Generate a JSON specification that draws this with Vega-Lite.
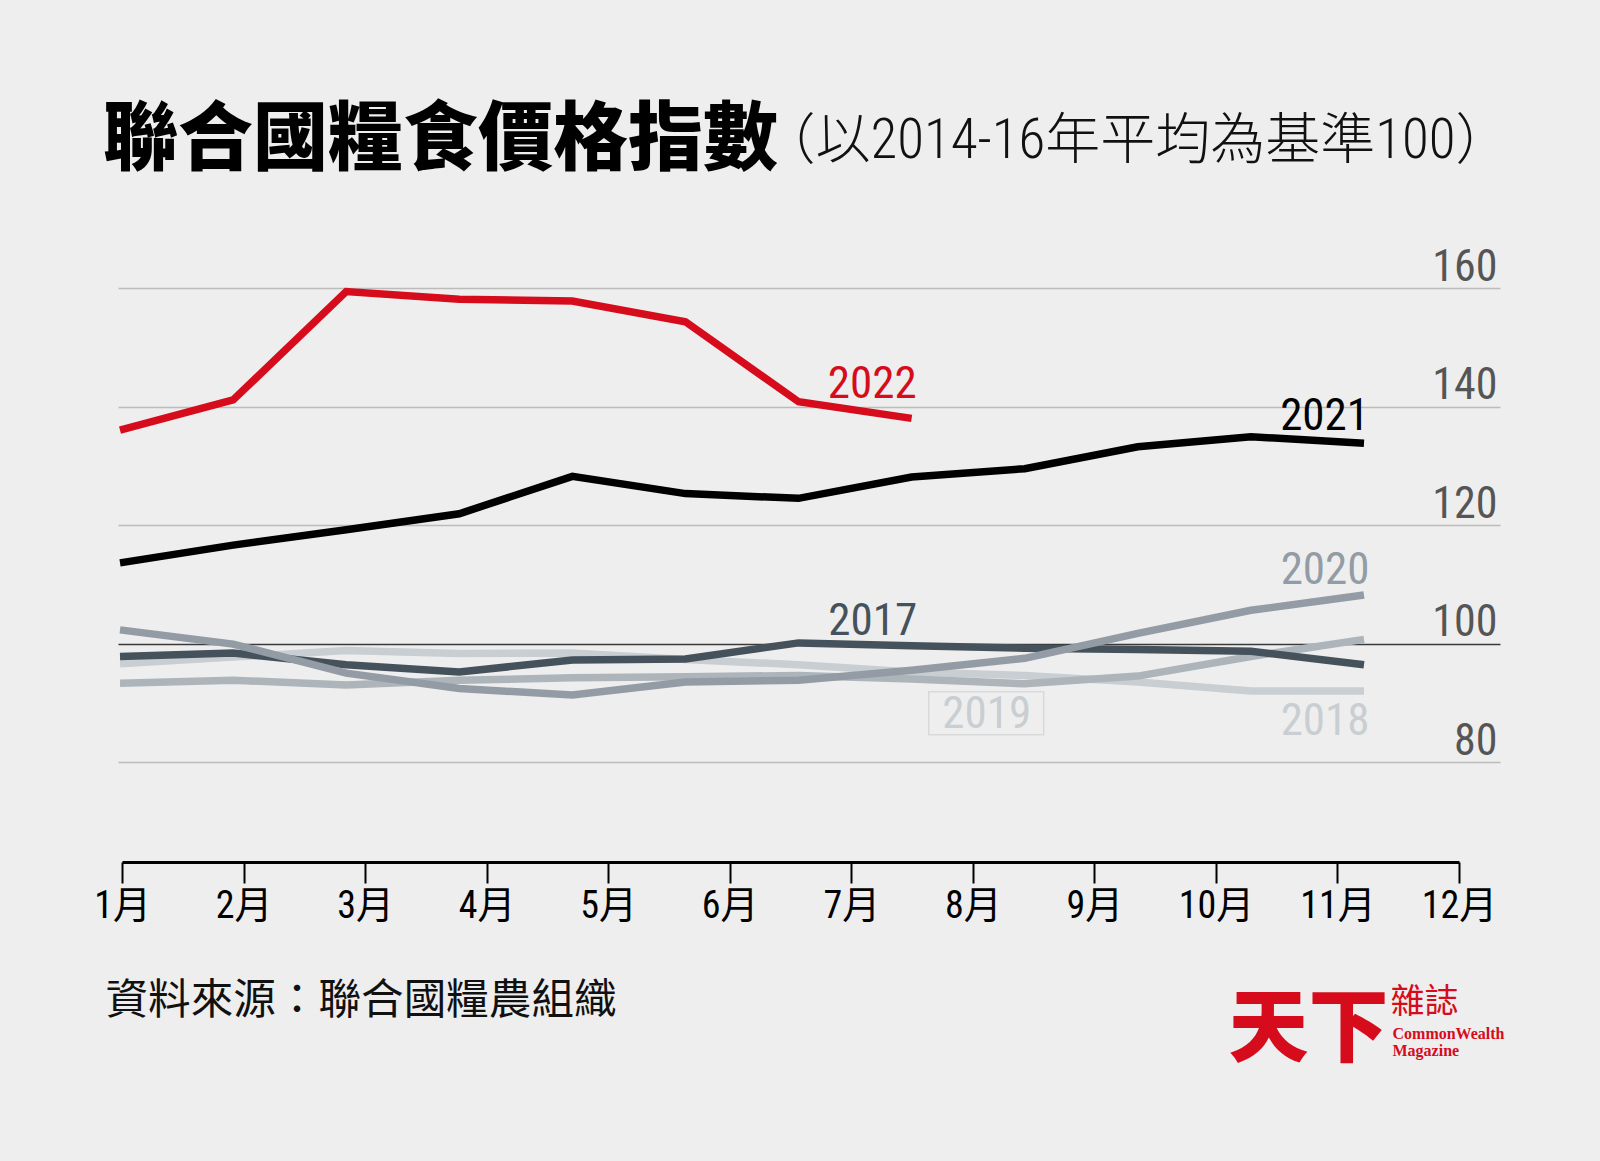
{
  "$schema": "https://vega.github.io/schema/vega-lite/v6.json",
  "width": 1382,
  "height": 474,
  "autosize": {"type": "none"},
  "padding": {"left": 118, "top": 288, "right": 100, "bottom": 399},
  "background": "#eeeeee",
  "config": {"view": {"stroke": null}},
  "title": {
    "text": "聯合國糧食價格指數",
    "orient": "top",
    "anchor": "start",
    "frame": "group",
    "baseline": "alphabetic",
    "offset": 0,
    "dx": -15,
    "dy": 126,
    "font": "Noto Sans CJK TC",
    "fontSize": 75,
    "fontWeight": 900,
    "color": "#000000"
  },
  "datasets": {
    "fpi": [
      {"year": "2018", "month": 1, "value": 96.6},
      {"year": "2018", "month": 2, "value": 97.7},
      {"year": "2018", "month": 3, "value": 98.8},
      {"year": "2018", "month": 4, "value": 98.3},
      {"year": "2018", "month": 5, "value": 98.4},
      {"year": "2018", "month": 6, "value": 97.3},
      {"year": "2018", "month": 7, "value": 96.4},
      {"year": "2018", "month": 8, "value": 95.2},
      {"year": "2018", "month": 9, "value": 94.6},
      {"year": "2018", "month": 10, "value": 93.5},
      {"year": "2018", "month": 11, "value": 92.0},
      {"year": "2018", "month": 12, "value": 92.0},
      {"year": "2019", "month": 1, "value": 93.3},
      {"year": "2019", "month": 2, "value": 93.8},
      {"year": "2019", "month": 3, "value": 93.0},
      {"year": "2019", "month": 4, "value": 93.8},
      {"year": "2019", "month": 5, "value": 94.2},
      {"year": "2019", "month": 6, "value": 94.4},
      {"year": "2019", "month": 7, "value": 94.6},
      {"year": "2019", "month": 8, "value": 94.0},
      {"year": "2019", "month": 9, "value": 93.2},
      {"year": "2019", "month": 10, "value": 94.5},
      {"year": "2019", "month": 11, "value": 97.8},
      {"year": "2019", "month": 12, "value": 100.7},
      {"year": "2017", "month": 1, "value": 97.8},
      {"year": "2017", "month": 2, "value": 98.4},
      {"year": "2017", "month": 3, "value": 96.4},
      {"year": "2017", "month": 4, "value": 95.2},
      {"year": "2017", "month": 5, "value": 97.2},
      {"year": "2017", "month": 6, "value": 97.4},
      {"year": "2017", "month": 7, "value": 100.1},
      {"year": "2017", "month": 8, "value": 99.6},
      {"year": "2017", "month": 9, "value": 99.2},
      {"year": "2017", "month": 10, "value": 99.0},
      {"year": "2017", "month": 11, "value": 98.7},
      {"year": "2017", "month": 12, "value": 96.4},
      {"year": "2020", "month": 1, "value": 102.3},
      {"year": "2020", "month": 2, "value": 99.9},
      {"year": "2020", "month": 3, "value": 95.0},
      {"year": "2020", "month": 4, "value": 92.4},
      {"year": "2020", "month": 5, "value": 91.3},
      {"year": "2020", "month": 6, "value": 93.5},
      {"year": "2020", "month": 7, "value": 93.8},
      {"year": "2020", "month": 8, "value": 95.5},
      {"year": "2020", "month": 9, "value": 97.5},
      {"year": "2020", "month": 10, "value": 101.7},
      {"year": "2020", "month": 11, "value": 105.6},
      {"year": "2020", "month": 12, "value": 108.2},
      {"year": "2021", "month": 1, "value": 113.6},
      {"year": "2021", "month": 2, "value": 116.6},
      {"year": "2021", "month": 3, "value": 119.2},
      {"year": "2021", "month": 4, "value": 121.9},
      {"year": "2021", "month": 5, "value": 128.2},
      {"year": "2021", "month": 6, "value": 125.3},
      {"year": "2021", "month": 7, "value": 124.5},
      {"year": "2021", "month": 8, "value": 128.1},
      {"year": "2021", "month": 9, "value": 129.5},
      {"year": "2021", "month": 10, "value": 133.2},
      {"year": "2021", "month": 11, "value": 134.9},
      {"year": "2021", "month": 12, "value": 133.8},
      {"year": "2022", "month": 1, "value": 136.0},
      {"year": "2022", "month": 2, "value": 141.1},
      {"year": "2022", "month": 3, "value": 159.4},
      {"year": "2022", "month": 4, "value": 158.1},
      {"year": "2022", "month": 5, "value": 157.8},
      {"year": "2022", "month": 6, "value": 154.3},
      {"year": "2022", "month": 7, "value": 140.8},
      {"year": "2022", "month": 8, "value": 138.0}
    ],
    "months": [
      {"m": 1}, {"m": 2}, {"m": 3}, {"m": 4}, {"m": 5}, {"m": 6},
      {"m": 7}, {"m": 8}, {"m": 9}, {"m": 10}, {"m": 11}, {"m": 12}
    ]
  },
  "layer": [
    {
      "data": {"name": "fpi"},
      "encoding": {
        "x": {
          "field": "month",
          "type": "quantitative",
          "scale": {"domain": [0.9823, 13.2026], "nice": false, "zero": false},
          "axis": {
            "orient": "top",
            "labels": false,
            "ticks": false,
            "domain": false,
            "grid": false,
            "title": "（以2014-16年平均為基準100）",
            "titleX": 642,
            "titleY": -131,
            "titleAlign": "left",
            "titleBaseline": "alphabetic",
            "titleFont": "Roboto Condensed, Liberation Sans Narrow, Noto Sans CJK TC",
            "titleFontSize": 55,
            "titleFontWeight": 300,
            "titleColor": "#111111"
          }
        },
        "y": {
          "field": "value",
          "type": "quantitative",
          "scale": {"domain": [80, 160], "nice": false, "zero": false},
          "axis": {
            "orient": "right",
            "values": [80, 100, 120, 140, 160],
            "title": null,
            "domain": false,
            "ticks": false,
            "tickSize": 0,
            "labelPadding": -3,
            "labelAlign": "right",
            "labelBaseline": "alphabetic",
            "labelOffset": -8,
            "labelFont": "Roboto Condensed, Liberation Sans Narrow, DejaVu Sans Condensed, sans-serif",
            "labelFontSize": 44,
            "labelColor": "#555555",
            "grid": true,
            "gridColor": {"condition": {"test": "datum.value === 100", "value": "#3a3a3a"}, "value": "#bbbbbb"},
            "gridWidth": 1.5
          }
        }
      },
      "layer": [
        {
          "mark": {"type": "line", "strokeWidth": 7.5, "strokeCap": "butt", "strokeJoin": "miter", "clip": false},
          "encoding": {
            "color": {
              "field": "year",
              "type": "nominal",
              "scale": {
                "domain": ["2018", "2019", "2017", "2020", "2021", "2022"],
                "range": ["#c9ced2", "#adb5bb", "#45525c", "#939ca5", "#000000", "#d60c1c"]
              },
              "legend": null
            }
          }
        },
        {
          "transform": [{"filter": "datum.year === '2019' && datum.month === 9"}],
          "mark": {"type": "rect", "fill": null, "stroke": "#d9d9d9", "strokeWidth": 1.5, "xOffset": -96, "x2Offset": 19, "yOffset": 8, "y2Offset": 51},
          "encoding": {"x2": {"field": "month"}, "y2": {"field": "value"}}
        },
        {
          "transform": [{"filter": "datum.year === '2022' && datum.month === 8"}],
          "mark": {"type": "text", "align": "right", "baseline": "alphabetic", "dx": 5, "dy": -20, "font": "Roboto Condensed, Liberation Sans Narrow, DejaVu Sans Condensed, sans-serif", "fontSize": 45, "color": "#d60c1c"},
          "encoding": {"text": {"field": "year"}}
        },
        {
          "transform": [{"filter": "datum.year === '2021' && datum.month === 12"}],
          "mark": {"type": "text", "align": "right", "baseline": "alphabetic", "dx": 5, "dy": -13, "font": "Roboto Condensed, Liberation Sans Narrow, DejaVu Sans Condensed, sans-serif", "fontSize": 45, "color": "#000000"},
          "encoding": {"text": {"field": "year"}}
        },
        {
          "transform": [{"filter": "datum.year === '2020' && datum.month === 12"}],
          "mark": {"type": "text", "align": "right", "baseline": "alphabetic", "dx": 5.5, "dy": -11, "font": "Roboto Condensed, Liberation Sans Narrow, DejaVu Sans Condensed, sans-serif", "fontSize": 45, "color": "#939ca5"},
          "encoding": {"text": {"field": "year"}}
        },
        {
          "transform": [{"filter": "datum.year === '2018' && datum.month === 12"}],
          "mark": {"type": "text", "align": "right", "baseline": "alphabetic", "dx": 5.5, "dy": 44, "font": "Roboto Condensed, Liberation Sans Narrow, DejaVu Sans Condensed, sans-serif", "fontSize": 45, "color": "#c9ced2"},
          "encoding": {"text": {"field": "year"}}
        },
        {
          "transform": [{"filter": "datum.year === '2017' && datum.month === 8"}],
          "mark": {"type": "text", "align": "right", "baseline": "alphabetic", "dx": 5.5, "dy": -11, "font": "Roboto Condensed, Liberation Sans Narrow, DejaVu Sans Condensed, sans-serif", "fontSize": 45, "color": "#45525c"},
          "encoding": {"text": {"field": "year"}}
        },
        {
          "transform": [{"filter": "datum.year === '2019' && datum.month === 9"}],
          "mark": {"type": "text", "align": "right", "baseline": "alphabetic", "dx": 6.5, "dy": 44, "font": "Roboto Condensed, Liberation Sans Narrow, DejaVu Sans Condensed, sans-serif", "fontSize": 45, "color": "#c9ced2"},
          "encoding": {"text": {"field": "year"}}
        }
      ]
    },
    {
      "data": {"name": "months"},
      "mark": {"type": "point", "opacity": 0},
      "encoding": {
        "x": {
          "field": "m",
          "type": "quantitative",
          "scale": {"domain": [1, 12], "range": [4, 1341], "nice": false, "zero": false},
          "axis": {
            "orient": "bottom",
            "offset": 100,
            "values": [1, 2, 3, 4, 5, 6, 7, 8, 9, 10, 11, 12],
            "labelExpr": "datum.value + '月'",
            "grid": false,
            "domainColor": "#000000",
            "domainWidth": 3,
            "tickColor": "#000000",
            "tickWidth": 2,
            "tickSize": 21,
            "labelFont": "Roboto Condensed, Liberation Sans Narrow, Noto Sans CJK TC",
            "labelFontSize": 38,
            "labelColor": "#000000",
            "labelPadding": 4,
            "labelFlush": false,
            "labelOverlap": false,
            "labelBound": false,
            "title": "資料來源：聯合國糧農組織",
            "titleX": -13,
            "titleY": 151,
            "titleAlign": "left",
            "titleAnchor": "start",
            "titleBaseline": "alphabetic",
            "titleFont": "Noto Sans CJK TC",
            "titleFontSize": 42.6,
            "titleFontWeight": 400,
            "titleColor": "#111111"
          }
        },
        "y": {
          "field": "m",
          "type": "quantitative",
          "axis": {
            "orient": "left",
            "labels": false,
            "ticks": false,
            "domain": false,
            "grid": false,
            "title": "天下",
            "titleAngle": 0,
            "titleX": 1110,
            "titleY": 766,
            "titleAlign": "left",
            "titleBaseline": "alphabetic",
            "titleFont": "Noto Sans CJK TC",
            "titleFontSize": 80,
            "titleFontWeight": 900,
            "titleColor": "#d60c1c"
          }
        }
      }
    },
    {
      "data": {"name": "fpi"},
      "mark": {"type": "point", "opacity": 0},
      "encoding": {
        "x": {
          "field": "month",
          "type": "quantitative",
          "axis": {
            "orient": "bottom",
            "labels": false,
            "ticks": false,
            "domain": false,
            "grid": false,
            "title": ["CommonWealth", "Magazine"],
            "titleX": 1274,
            "titleY": 276,
            "titleAlign": "left",
            "titleBaseline": "alphabetic",
            "titleFont": "Liberation Serif",
            "titleFontSize": 16,
            "titleFontWeight": "bold",
            "titleLineHeight": 17,
            "titleColor": "#d60c1c"
          }
        },
        "y": {
          "field": "value",
          "type": "quantitative",
          "axis": {
            "orient": "left",
            "labels": false,
            "ticks": false,
            "domain": false,
            "grid": false,
            "title": "雜誌",
            "titleAngle": 0,
            "titleX": 1272,
            "titleY": 724,
            "titleAlign": "left",
            "titleBaseline": "alphabetic",
            "titleFont": "Noto Sans CJK TC",
            "titleFontSize": 34,
            "titleFontWeight": 400,
            "titleColor": "#d60c1c"
          }
        }
      }
    }
  ],
  "resolve": {"scale": {"x": "independent", "y": "independent"}}
}
